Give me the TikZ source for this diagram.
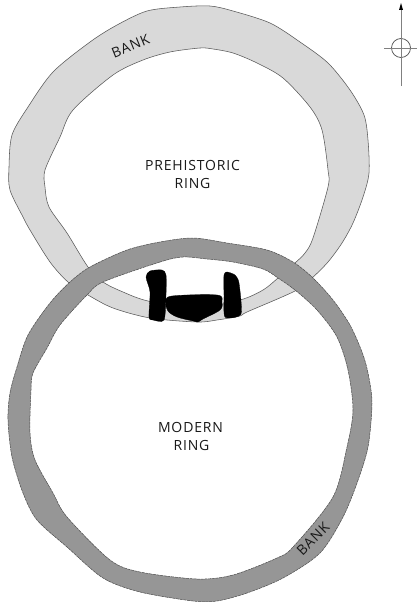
\documentclass[tikz,border=0pt]{standalone}
\usepackage{fontspec}
\setmainfont[LetterSpace=6]{Open Sans}
\tikzset{
  prering/.style={draw=black!65,line width=0.55pt,fill=prefill,even odd rule},
  modring/.style={draw=black!70,line width=0.5pt,dash pattern=on 3pt off 0.7pt,fill=modfill,even odd rule},
  stone/.style={fill=black,draw=black,line width=0.3pt},
  lab/.style={font=\fontsize{14}{18}\selectfont,text=black!90,align=center,inner sep=0pt},
  compassline/.style={draw=black!50,line width=0.8pt},
}
\definecolor{prefill}{HTML}{D9D9D9}
\definecolor{modfill}{HTML}{969696}
\begin{document}
\begin{tikzpicture}[x=1pt,y=-1pt]
\useasboundingbox (0,0) rectangle (417,602);
% prehistoric ring
\path[prering] plot[smooth cycle,tension=0.5] coordinates {
 (210,6)(233,11)(270,23)(300,42)(328,63)(350,90)(364,115)(368,140)(369,173)(363,197)(353,223)(342,243)(328,262)(312,278)(295,291)(247,312)(240,316)(217,320)(197,322)(150,318)(113,308)(88,295)(68,282)(50,262)(30,230)(23,217)(10,190)(9,167)(12,135)(28,107)(53,72)(90,42)(117,25)(147,11)(180,7)}
 plot[smooth cycle,tension=0.5] coordinates {
 (200,48)(170,52)(143,60)(113,75)(73,110)(60,137)(45,170)(45,187)(49,207)(67,233)(88,267)(103,282)(123,292)(148,301)(195,308)(240,300)(263,290)(278,278)(295,263)(305,253)(313,238)(328,187)(328,170)(322,130)(310,107)(283,78)(257,63)(233,53)(213,49)};
% modern ring
\path[modring] plot[smooth cycle,tension=0.5] coordinates {
 (193,238)(160,242)(127,250)(90,267)(70,282)(50,303)(28,335)(17,367)(10,393)(8,420)(12,457)(23,493)(37,520)(67,547)(103,578)(140,592)(193,601)(217,601)(247,593)(283,578)(320,553)(343,517)(357,483)(368,447)(372,403)(368,373)(362,352)(350,325)(333,300)(313,278)(293,262)(267,250)(227,243)}
 plot[smooth cycle,tension=0.5] coordinates {
 (183,257)(160,262)(103,282)(87,295)(60,325)(47,348)(33,373)(31,390)(30,433)(35,460)(53,493)(67,517)(110,560)(140,572)(197,579)(233,575)(277,558)(293,547)(333,497)(347,447)(353,410)(348,370)(337,337)(317,310)(295,290)(278,278)(263,269)(233,262)(207,259)};
% stones
\path[stone] plot[smooth cycle,tension=0.45] coordinates {
 (146,277)(150,271)(162,270)(166,275)(166,295)(164,320)(153,320)(149,317)(150,292)};
\path[stone] plot[smooth cycle,tension=0.55] coordinates {
 (166,302)(172,296)(217,295)(222,302)(220,310)(203,319)(198,322)(193,321)(177,317)(168,311)};
\path[stone] plot[smooth cycle,tension=0.4] coordinates {
 (224,275)(227,272)(235,275)(239,283)(241,314)(225,317)(224,295)};
% labels
\node[lab] (pre) at (192.5,174) {PREHISTORIC\\RING};
\node[lab] (mod) at (190.5,436) {MODERN\\\hspace*{2pt}RING};
\node[lab,rotate=22] (banka) at (130.5,46) {BANK};
\node[lab,rotate=45] (bankb) at (313,539) {BANK};
% compass
\coordinate (cs) at (401,86);
\coordinate (cn) at (401,8);
\coordinate (cw) at (384,48);
\coordinate (ce) at (417,48);
\node[circle,draw=black!70,line width=0.7pt,minimum size=19pt,inner sep=0pt] (cc) at (401,48) {};
\draw[compassline] (cs) -- (cn);
\draw[compassline] (cw) -- (ce);
\path[fill=black] (401,3) coordinate (ctip) -- (403,10) -- (399,10) -- cycle;
\end{tikzpicture}
\end{document}
